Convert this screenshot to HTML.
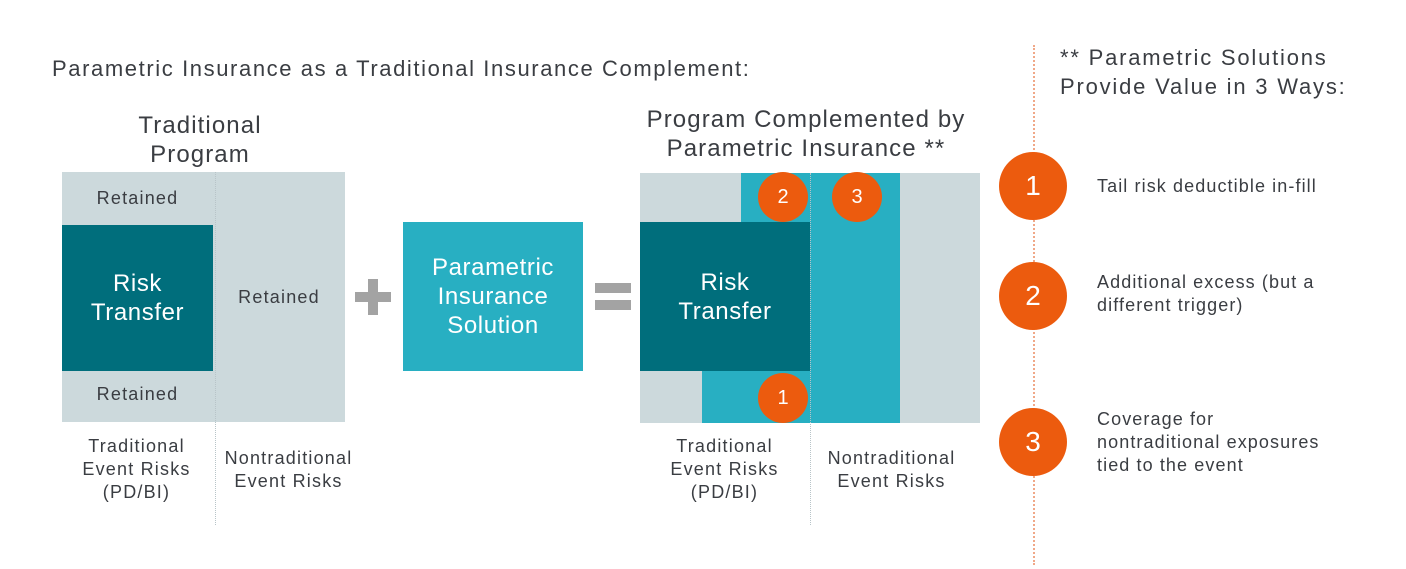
<!DOCTYPE html><html><head><style>
body{margin:0;width:1406px;height:569px;background:#fff;position:relative;overflow:hidden;font-family:"Liberation Sans",sans-serif;color:#3a3d42}
div{position:absolute;box-sizing:border-box}
.c{text-align:center}
.g{background:#ccd9dc}
.d{background:#006e7c;color:#fff;display:flex;align-items:center;justify-content:center;text-align:center;font-size:24px;line-height:29px;letter-spacing:0.6px}
.t{background:#28afc2}
.o{background:#ec5b0e;border-radius:50%;color:#fff;display:flex;align-items:center;justify-content:center}
.s{font-size:18px;line-height:23px;text-align:center;letter-spacing:1.2px;white-space:nowrap}
.h{font-size:24px;line-height:29px;letter-spacing:1.1px;text-align:center;white-space:nowrap}
.r{font-size:18px;line-height:23px;letter-spacing:1.1px;white-space:nowrap}
</style></head><body>
<div style="left:52px;top:56px;font-size:22px;letter-spacing:1.6px;white-space:nowrap">Parametric Insurance as a Traditional Insurance Complement:</div>
<div class="h" style="left:100px;top:111px;width:200px">Traditional<br>Program</div>
<div class="g" style="left:62px;top:172px;width:283px;height:250px"></div>
<div class="d" style="left:62px;top:225px;width:151px;height:146px">Risk<br>Transfer</div>
<div class="s" style="left:62px;top:187px;width:151px">Retained</div>
<div class="s" style="left:62px;top:383px;width:151px">Retained</div>
<div class="s" style="left:215px;top:286px;width:128px">Retained</div>
<div style="left:215px;top:172px;height:353px;border-left:1px dotted #b8c4c8"></div>
<div class="s" style="left:54px;top:435px;width:165px">Traditional<br>Event Risks<br>(PD/BI)</div>
<div class="s" style="left:211px;top:447px;width:155px">Nontraditional<br>Event Risks</div>
<div style="left:355px;top:292px;width:36px;height:10px;background:#a3a3a3"></div>
<div style="left:368px;top:279px;width:10px;height:36px;background:#a3a3a3"></div>
<div class="t d" style="left:403px;top:222px;width:180px;height:149px;background:#28afc2">Parametric<br>Insurance<br>Solution</div>
<div style="left:595px;top:283px;width:36px;height:10px;background:#a3a3a3"></div>
<div style="left:595px;top:300px;width:36px;height:10px;background:#a3a3a3"></div>
<div class="h" style="left:606px;top:105px;width:400px">Program Complemented by<br>Parametric Insurance **</div>
<div class="g" style="left:640px;top:173px;width:340px;height:250px"></div>
<div class="t" style="left:741px;top:173px;width:159px;height:250px"></div>
<div class="t" style="left:702px;top:300px;width:100px;height:123px"></div>
<div class="d" style="left:640px;top:222px;width:170px;height:149px">Risk<br>Transfer</div>
<div style="left:810px;top:173px;height:352px;border-left:1px dotted #b8c4c8"></div>
<div class="o" style="left:758px;top:172px;width:50px;height:50px;font-size:20px">2</div>
<div class="o" style="left:832px;top:172px;width:50px;height:50px;font-size:20px">3</div>
<div class="o" style="left:758px;top:373px;width:50px;height:50px;font-size:20px">1</div>
<div class="s" style="left:642px;top:435px;width:165px">Traditional<br>Event Risks<br>(PD/BI)</div>
<div class="s" style="left:814px;top:447px;width:155px">Nontraditional<br>Event Risks</div>
<div style="left:1033px;top:45px;height:520px;border-left:2px dotted #f0a888"></div>
<div style="left:1060px;top:43px;font-size:22px;line-height:29px;letter-spacing:1.8px;white-space:nowrap">** Parametric Solutions<br>Provide Value in 3 Ways:</div>
<div class="o" style="left:999px;top:152px;width:68px;height:68px;font-size:28px">1</div>
<div class="o" style="left:999px;top:262px;width:68px;height:68px;font-size:28px">2</div>
<div class="o" style="left:999px;top:408px;width:68px;height:68px;font-size:28px">3</div>
<div class="r" style="left:1097px;top:175px">Tail risk deductible in-fill</div>
<div class="r" style="left:1097px;top:271px">Additional excess (but a<br>different trigger)</div>
<div class="r" style="left:1097px;top:408px">Coverage for<br>nontraditional exposures<br>tied to the event</div>
</body></html>
